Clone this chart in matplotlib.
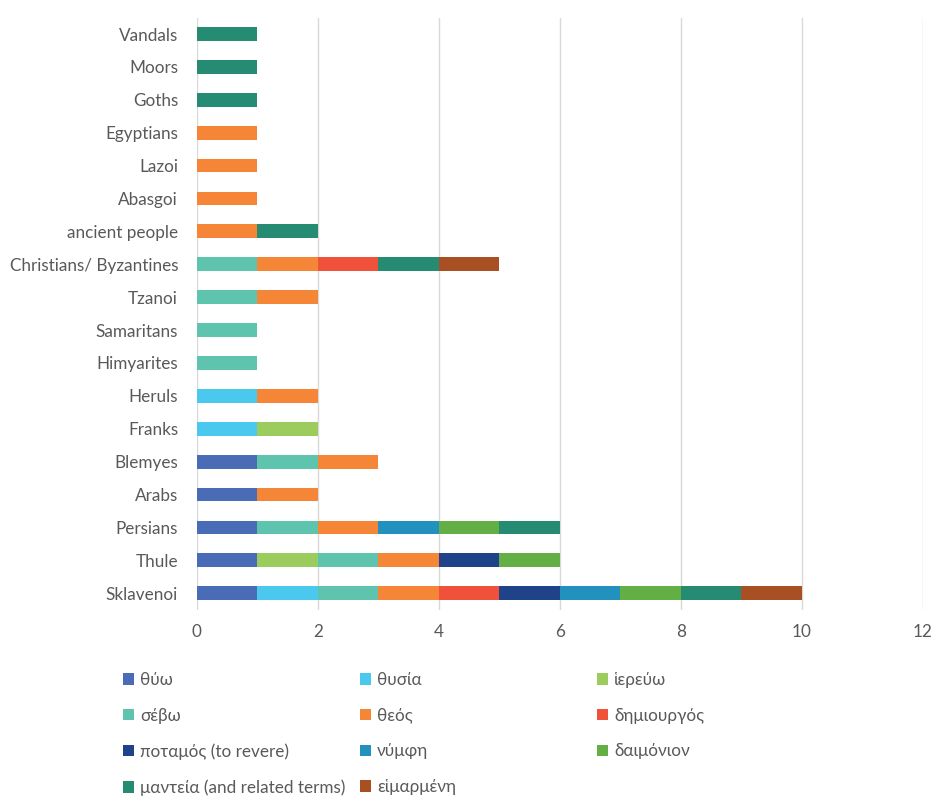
import numpy as np
import matplotlib.pyplot as plt

plt.rcParams['font.family'] = ['Lato', 'Noto Sans', 'DejaVu Sans']

# categories, bottom to top
peoples = ['Sklavenoi', 'Thule', 'Persians', 'Arabs', 'Blemyes', 'Franks', 'Heruls',
           'Himyarites', 'Samaritans', 'Tzanoi', 'Christians/ Byzantines', 'ancient people',
           'Abasgoi', 'Lazoi', 'Egyptians', 'Goths', 'Moors', 'Vandals']

terms = ['θύω', 'θυσία', 'ἱερεύω', 'σέβω', 'θεός', 'δημιουργός', 'ποταμός (to revere)',
         'νύμφη', 'δαιμόνιον', 'μαντεία (and related terms)', 'εἱμαρμένη']

# counts per term, same order as peoples
thyo        = [1, 1, 1, 1, 1, 0, 0, 0, 0, 0, 0, 0, 0, 0, 0, 0, 0, 0]
thysia      = [1, 0, 0, 0, 0, 1, 1, 0, 0, 0, 0, 0, 0, 0, 0, 0, 0, 0]
hiereuo     = [0, 1, 0, 0, 0, 1, 0, 0, 0, 0, 0, 0, 0, 0, 0, 0, 0, 0]
sebo        = [1, 1, 1, 0, 1, 0, 0, 1, 1, 1, 1, 0, 0, 0, 0, 0, 0, 0]
theos       = [1, 1, 1, 1, 1, 0, 1, 0, 0, 1, 1, 1, 1, 1, 1, 0, 0, 0]
demiourgos  = [1, 0, 0, 0, 0, 0, 0, 0, 0, 0, 1, 0, 0, 0, 0, 0, 0, 0]
potamos     = [1, 1, 0, 0, 0, 0, 0, 0, 0, 0, 0, 0, 0, 0, 0, 0, 0, 0]
nymphe      = [1, 0, 1, 0, 0, 0, 0, 0, 0, 0, 0, 0, 0, 0, 0, 0, 0, 0]
daimonion   = [1, 1, 1, 0, 0, 0, 0, 0, 0, 0, 0, 0, 0, 0, 0, 0, 0, 0]
manteia     = [1, 0, 1, 0, 0, 0, 0, 0, 0, 0, 1, 1, 0, 0, 0, 1, 1, 1]
heimarmene  = [1, 0, 0, 0, 0, 0, 0, 0, 0, 0, 1, 0, 0, 0, 0, 0, 0, 0]

series = [thyo, thysia, hiereuo, sebo, theos, demiourgos, potamos, nymphe,
          daimonion, manteia, heimarmene]

colors = ['#4A6BB5', '#4BC8EE', '#9CCB5E', '#5EC4AD', '#F58637', '#EF513A',
          '#1F4388', '#2391BD', '#63AE45', '#268B73', '#A84F23']

fs = 12.3
grey = '#595959'

fig = plt.figure(figsize=(9.37, 7.98), dpi=100)
ax = fig.add_axes([0.210, 0.236, 0.775, 0.742])

y = np.arange(len(peoples))
left = np.zeros(len(peoples))
for vals, lab, col in zip(series, terms, colors):
    vals = np.array(vals, dtype=float)
    ax.barh(y, vals, left=left, height=0.42, color=col, label=lab)
    left += vals

ax.set_xlim(0, 12)
ax.set_ylim(-0.5, len(peoples) - 0.5)
ax.set_xticks(range(0, 13, 2))
ax.set_yticks(y)
ax.set_yticklabels(peoples)
ax.xaxis.grid(True, color='#D9D9D9', linewidth=1)
ax.set_axisbelow(True)
for s in ax.spines.values():
    s.set_visible(False)
ax.tick_params(length=0, labelsize=fs, labelcolor=grey)
ax.tick_params(axis='x', pad=10)
ax.tick_params(axis='y', pad=13.5)

# legend in 3 equal-width columns, filled row by row
handles, labels = ax.get_legend_handles_labels()
col_x = [123, 360, 597]
for c in range(3):
    idx = list(range(c, len(handles), 3))
    fig.legend([handles[i] for i in idx], [labels[i] for i in idx], ncol=1,
               loc='upper left', bbox_to_anchor=(col_x[c] / 937, 0.158),
               frameon=False, fontsize=fs, labelcolor=grey, handlelength=0.65,
               handleheight=0.65, handletextpad=0.35, labelspacing=1.15,
               borderaxespad=0, borderpad=0)

fig.savefig('out.png', dpi=100)
